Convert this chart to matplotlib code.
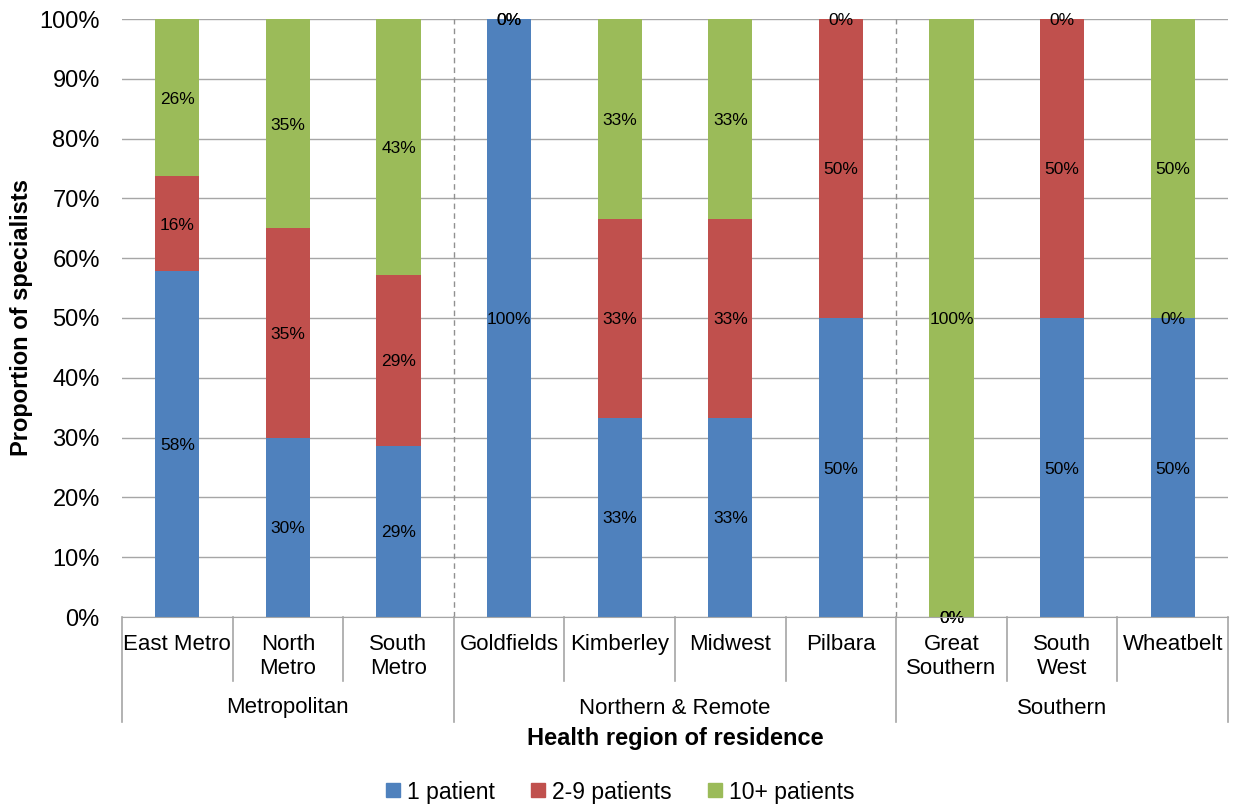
import matplotlib.pyplot as plt
import numpy as np
from matplotlib.lines import Line2D
from matplotlib.transforms import blended_transform_factory

plt.rcParams["font.family"] = ["Liberation Sans", "DejaVu Sans"]

# Proportion of specialists (%) by number of patients seen
regions = ["East Metro", "North\nMetro", "South\nMetro", "Goldfields", "Kimberley",
           "Midwest", "Pilbara", "Great\nSouthern", "South\nWest", "Wheatbelt"]
groups = ["Metropolitan", "Northern & Remote", "Southern"]
group_sizes = [3, 4, 3]
one_patient = [57.9, 30.0, 28.6, 100.0, 33.3, 33.3, 50.0, 0.0, 50.0, 50.0]
two_to_nine = [15.8, 35.0, 28.6, 0.0, 33.3, 33.3, 50.0, 0.0, 50.0, 0.0]
ten_plus = [26.3, 35.0, 42.8, 0.0, 33.4, 33.4, 0.0, 100.0, 0.0, 50.0]
series_names = ["1 patient", "2-9 patients", "10+ patients"]
colors = ["#4F81BD", "#C0504D", "#9BBB59"]
yticks = list(range(0, 101, 10))

GRID = "#A6A6A6"

fig = plt.figure(figsize=(12.34, 8.10), dpi=100)
ax = fig.add_axes([122 / 1234, 193 / 810, 1106 / 1234, 598 / 810])

x = np.arange(len(regions))
bottom = np.zeros(len(regions))
for vals, color in zip([one_patient, two_to_nine, ten_plus], colors):
    vals = np.array(vals)
    ax.bar(x, vals, width=0.4, bottom=bottom, color=color, zorder=3)
    for xi, b, v in zip(x, bottom, vals):
        ax.text(xi, b + v / 2, f"{v:.0f}%", ha="center", va="center_baseline",
                fontsize=12.5, zorder=4)
    bottom += vals

ax.set_xlim(-0.5, len(regions) - 0.5)
ax.set_ylim(0, 100)
ax.set_yticks(yticks)
ax.set_yticklabels([f"{t}%" for t in yticks], fontsize=17)
ax.tick_params(axis="y", length=0, pad=16)
ax.set_xticks([])
ax.grid(axis="y", color=GRID, lw=1, zorder=0)
for side in ["top", "right", "left"]:
    ax.spines[side].set_visible(False)
ax.spines["bottom"].set_color(GRID)
ax.spines["bottom"].set_zorder(5)

# dashed separators between region groups
edges = np.cumsum([0] + group_sizes) - 0.5
for e in edges[1:-1]:
    ax.axvline(e, color="#909090", lw=1, ls=(0, (4, 3)), zorder=2)

# two-level category axis below the plot
trans = blended_transform_factory(ax.transData, ax.transAxes)
cat_bottom = -64 / 598
grp_bottom = -105 / 598
for i in range(1, len(regions)):
    e = i - 0.5
    is_group_edge = np.any(np.isclose(edges, e))
    y1 = grp_bottom if is_group_edge else cat_bottom
    ax.plot([e, e], [0, y1], color=GRID, lw=1.2, transform=trans, clip_on=False)
for e in [edges[0], edges[-1]]:
    ax.plot([e, e], [0, grp_bottom], color=GRID, lw=1.2, transform=trans, clip_on=False)

for xi, name in zip(x, regions):
    ax.text(xi, -17 / 598, name, ha="center", va="top", fontsize=16,
            linespacing=1.2, transform=trans)

for g, lo, hi in zip(groups, edges[:-1], edges[1:]):
    ax.text((lo + hi) / 2, -91 / 598, g, ha="center", va="center", fontsize=16,
            transform=trans)

fig.text(675 / 1234, 1 - 739 / 810, "Health region of residence", ha="center",
         va="center", fontsize=17, fontweight="bold")
fig.text(22 / 1234, 1 - 318 / 810, "Proportion of specialists", ha="center",
         va="center", rotation=90, fontsize=17, fontweight="bold")

handles = [Line2D([], [], marker="s", ls="none", color=c, markersize=10) for c in colors]
fig.legend(handles, series_names, loc="center", bbox_to_anchor=(0.5, 1 - 792 / 810),
           ncol=3, frameon=False, fontsize=16.5, handletextpad=0.0,
           handlelength=1.2, columnspacing=1.3)

fig.savefig("out.png")
